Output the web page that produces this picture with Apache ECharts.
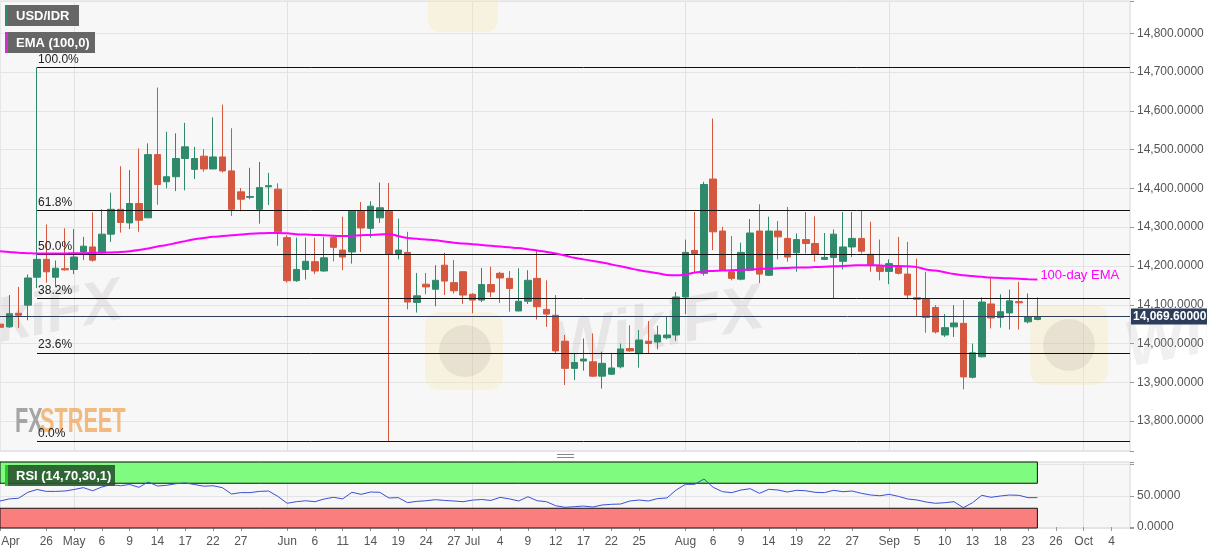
<!DOCTYPE html>
<html><head><meta charset="utf-8">
<script src="https://cdn.jsdelivr.net/npm/echarts/dist/echarts.min.js"></script>
<style>html,body{margin:0;padding:0;background:#fff;}#c{width:1207px;height:555px;}</style>
</head><body><div id="c"></div>
<script>
// trading days shown on the category axis (2019), in order
const tradingDays = [
  ['04', [19,22,23,24,25,26,29,30]],
  ['05', [1,2,3,6,7,8,9,10,13,14,15,16,17,20,21,22,23,24,27,28,29,30,31]],
  ['06', [3,4,5,6,7,10,11,12,13,14,17,18,19,20,21,24,25,26,27,28]],
  ['07', [1,2,3,4,5,8,9,10,11,12,15,16,17,18,19,22,23,24,25,26,29,30,31]],
  ['08', [1,2,5,6,7,8,9,12,13,14,15,16,19,20,21,22,23,26,27,28,29,30]],
  ['09', [2,3,4,5,6,9,10,11,12,13,16,17,18,19,20,23,24,25,26,27,30]],
  ['10', [1,2,3,4,7,8]]
];
const categories = [];
tradingDays.forEach(([m, days]) => days.forEach(d => categories.push('2019-' + m + '-' + String(d).padStart(2,'0'))));

// OHLC per candle (Apr 19 .. Sep 24)
const openP  = [14050,14043,14078,14099,14171,14217,14171,14193,14191,14236,14249,14236,14282,14346,14311,14361,14324,14487,14417,14430,14477,14449,14483,14450,14481,14445,14391,14377,14346,14404,14398,14273,14162,14191,14211,14187,14273,14241,14236,14341,14297,14324,14341,14232,14235,14106,14153,14140,14202,14157,14185,14127,14112,14152,14181,14168,14084,14109,14168,14088,14073,14006,13936,13955,13953,13916,13921,13940,13987,13974,14006,14004,14015,14022,14120,14240,14181,14424,14290,14185,14166,14189,14290,14176,14290,14271,14234,14268,14258,14217,14222,14212,14249,14271,14230,14199,14186,14199,14179,14118,14114,14093,14022,14043,14052,13913,13966,14102,14067,14079,14108,14056,14062];
const closeP = [14042,14077,14073,14169,14217,14185,14194,14190,14223,14251,14215,14282,14346,14312,14361,14318,14487,14410,14430,14477,14507,14477,14450,14481,14445,14346,14372,14379,14402,14407,14288,14162,14191,14212,14187,14221,14248,14223,14341,14298,14354,14350,14230,14241,14107,14123,14146,14163,14161,14136,14125,14112,14152,14133,14169,14142,14109,14163,14095,14076,13981,13936,13951,13960,13916,13949,13937,13986,13981,14009,14000,14022,14022,14120,14235,14232,14410,14288,14189,14168,14235,14285,14179,14290,14275,14223,14268,14258,14230,14222,14282,14249,14271,14238,14202,14186,14206,14181,14125,14114,14067,14030,14041,14053,13914,13976,14107,14066,14082,14110,14105,14069,14069.6];
const lowP   = [14036,14040,14040,14060,14143,14157,14146,14188,14179,14215,14211,14228,14262,14286,14295,14288,14324,14358,14400,14393,14395,14424,14443,14450,14441,14329,14341,14372,14309,14357,14252,14157,14159,14165,14179,14185,14212,14189,14206,14236,14273,14311,13747,14217,14088,14080,14127,14096,14125,14129,14102,14078,14107,14120,14105,14082,14083,14102,14062,14043,13974,13893,13906,13930,13914,13884,13919,13936,13979,13938,13974,13985,14011,14007,14076,14181,14175,14241,14187,14163,14163,14187,14156,14174,14217,14211,14185,14232,14211,14215,14116,14191,14223,14232,14185,14163,14153,14178,14114,14069,14028,14026,14017,14017,13882,13910,13964,14039,14041,14036,14036,14052,14060];
const highP  = [14068,14125,14146,14178,14712,14307,14214,14297,14295,14275,14338,14346,14389,14457,14447,14503,14516,14660,14546,14542,14569,14507,14501,14583,14616,14555,14401,14453,14468,14440,14413,14279,14273,14273,14273,14275,14279,14327,14343,14365,14367,14415,14414,14322,14288,14182,14182,14202,14234,14215,14187,14130,14195,14198,14185,14187,14194,14189,14239,14163,14125,14022,13974,14013,14026,13979,13976,14000,14047,14035,14058,14046,14069,14133,14268,14339,14417,14580,14301,14277,14260,14321,14359,14327,14316,14352,14284,14339,14328,14285,14294,14339,14339,14344,14314,14268,14217,14275,14262,14219,14185,14099,14076,14099,14112,14000,14119,14170,14127,14139,14159,14129,14119];

// EMA(100)
const ema100 = [14238,14236,14234,14233,14232,14232,14232,14232,14233,14233,14234,14234,14235,14236,14238,14241,14245,14250,14254,14259,14264,14269,14272,14275,14277,14279,14281,14283,14284,14285,14285,14284,14282,14281,14280,14279,14278,14277,14278,14279,14280,14281,14282,14277,14272,14270,14268,14266,14263,14260,14258,14256,14254,14252,14250,14248,14246,14243,14240,14236,14232,14227,14221,14217,14213,14209,14204,14199,14194,14189,14185,14181,14177,14176,14178,14183,14186,14187,14188,14189,14190,14191,14192,14193,14194,14195,14196,14196,14197,14198,14199,14200,14201,14202,14202,14201,14200,14200,14199,14197,14191,14188,14184,14179,14176,14174,14172,14170,14169,14168,14167,14166,14165];

// RSI(14)
const rsi14 = [41.6,45,46,55.5,60,57,57,57.6,60,63,58,64,68,66,68,63.5,72,65.6,66.7,69.3,70.4,68,65.3,66,63,52.8,55,55,57,57.6,49,38,40.5,42,40.5,44.8,47.5,45,55.5,52.3,56,55.5,46.4,47,39,41,42,43.7,42.5,41.6,40.5,43,44,42.5,47.5,45,41.6,48.5,42,40.5,34,31.5,32.5,33.5,32,35.2,36.3,36.8,41.6,43.2,41.6,45.5,46.4,59.2,68.3,68.3,76.8,63.5,56.5,55,59.2,61.3,53.9,60.3,59.2,56,58.7,58,55.5,55,58.7,56.5,57.6,53.9,51.2,50,52.3,49,44.8,43.2,40,37.9,38.9,40.5,30.9,38.9,50.7,47.5,49.6,51.2,50.7,47,47];

// x-axis tick labels
const tickDates  = ['2019-04-19','2019-04-26','2019-05-01','2019-05-06','2019-05-09','2019-05-14','2019-05-17','2019-05-22','2019-05-27','2019-06-03','2019-06-06','2019-06-11','2019-06-14','2019-06-19','2019-06-24','2019-06-27','2019-07-01','2019-07-04','2019-07-09','2019-07-12','2019-07-17','2019-07-22','2019-07-25','2019-08-01','2019-08-06','2019-08-09','2019-08-14','2019-08-19','2019-08-22','2019-08-27','2019-09-02','2019-09-05','2019-09-10','2019-09-13','2019-09-18','2019-09-23','2019-09-26','2019-10-01','2019-10-04'];
const tickLabels = ['Apr','26','May','6','9','14','17','22','27','Jun','6','11','14','19','24','27','Jul','4','9','12','17','22','25','Aug','6','9','14','19','22','27','Sep','5','10','13','18','23','26','Oct','4'];
const monthStarts = ['2019-05-01','2019-06-03','2019-07-01','2019-08-01','2019-09-02','2019-10-01'];

// Fibonacci retracement
const fibHigh = 14712, fibLow = 13748;
const fibLabels = ['100.0%','61.8%','50.0%','38.2%','23.6%','0.0%'];
const fibRatios = [1, 0.618, 0.5, 0.382, 0.236, 0];
const fibStartIndex = 4;
const lastPrice = 14069.6;
const lastPriceLabel = '14,069.60000';
const rsiUpper = 70, rsiLower = 30;

const labelByIdx = {};
tickDates.forEach((d,i)=>{ labelByIdx[categories.indexOf(d)] = tickLabels[i]; });
const monthIdx = new Set(monthStarts.map(d=>categories.indexOf(d)));
const candleData = openP.map((o,i)=>[o, closeP[i], lowP[i], highP[i]]);
const lastIdx = openP.length - 1;

const fmtPrice = v => (v % 100 === 0) ? v.toLocaleString('en-US',{minimumFractionDigits:4,maximumFractionDigits:4}) : '';

const fibLines = fibRatios.map((r,i)=>{
  const p = fibLow + r*(fibHigh-fibLow);
  return [{coord:[fibStartIndex, p], label:{formatter: fibLabels[i]}}, {coord:[categories.length-1, p]}];
});

const chart = echarts.init(document.getElementById('c'), null, {renderer:'canvas'});
const font = 'Arial, "Liberation Sans", sans-serif';
chart.setOption({
  animation:false,
  backgroundColor:'#ffffff',
  textStyle:{fontFamily:font},
  grid:[
    {left:0, right:77, top:1, height:450, show:true, backgroundColor:'#f7f7f7', borderColor:'#d6d6de', borderWidth:1, outerBoundsMode:'none', containLabel:false},
    {left:0, right:77, top:462, height:66, show:true, backgroundColor:'#f7f7f7', borderColor:'#d6d6de', borderWidth:1, outerBoundsMode:'none', containLabel:false}
  ],
  xAxis:[
    {type:'category', gridIndex:0, data:categories, boundaryGap:false,
     axisLine:{show:false}, axisTick:{show:false}, axisLabel:{show:false},
     splitLine:{show:true, interval:(i)=>monthIdx.has(i), lineStyle:{color:'#e2e2e2'}}},
    {type:'category', gridIndex:1, data:categories, boundaryGap:false,
     axisLine:{show:false},
     axisTick:{show:true, interval:(i)=>(i in labelByIdx), length:4, lineStyle:{color:'#999'}},
     splitLine:{show:true, interval:(i)=>monthIdx.has(i), lineStyle:{color:'#e2e2e2'}},
     axisLabel:{show:true, interval:(i)=>(i in labelByIdx), color:'#555', fontSize:12, margin:8, fontFamily:font,
       formatter:(v, i)=> i===0 ? '{l|'+labelByIdx[0]+'}' : (labelByIdx[i]||''),
       rich:{l:{padding:[0,0,0,21], color:'#555', fontSize:12, fontFamily:font}}}}
  ],
  yAxis:[
    {type:'value', gridIndex:0, position:'right', min:13723, max:14883, minInterval:100, maxInterval:100, scale:true,
     axisLine:{show:false}, axisTick:{show:true, length:4, lineStyle:{color:'#999'}},
     axisLabel:{color:'#555', fontSize:12, margin:7, formatter:fmtPrice, fontFamily:font},
     splitLine:{show:true, lineStyle:{color:'#e4e4e4'}}},
    {type:'value', gridIndex:1, position:'right', min:-1.6, max:104, minInterval:50, maxInterval:50,
     axisLine:{show:false}, axisTick:{show:true, length:4, lineStyle:{color:'#999'}},
     axisLabel:{color:'#555', fontSize:12, margin:7, fontFamily:font, formatter:v=>(v===0||v===50)?v.toFixed(4):''},
     splitLine:{show:true, lineStyle:{color:'#e4e4e4'}}}
  ],
  series:[
    {type:'candlestick', name:'USD/IDR', xAxisIndex:0, yAxisIndex:0, data:candleData, barWidth:7, clip:true,
     itemStyle:{color:'#2f8a6c', color0:'#d4573f', borderColor:'#2f8a6c', borderColor0:'#d4573f', borderWidth:1},
     markLine:{silent:true, symbol:['none','none'], animation:false,
       data:[...fibLines.map(l=>[
         Object.assign({}, l[0], {lineStyle:{color:'#111', width:1, type:'solid'}, label:Object.assign({show:true, position:'insideStartTop', color:'#222', fontSize:12, distance:[1,2], fontFamily:font}, l[0].label)}),
         l[1]]),
         {yAxis:lastPrice, lineStyle:{color:'#2c3d5b', width:1, type:'solid'},
          label:{show:true, position:'end', formatter:lastPriceLabel, color:'#fff', fontWeight:'bold', fontSize:12, fontFamily:font,
                 backgroundColor:'#2c3d5b', padding:[2,2,2,2], distance:1}}]
     }},
    {type:'line', name:'EMA', xAxisIndex:0, yAxisIndex:0, data:ema100, showSymbol:false, smooth:true, z:5,
     lineStyle:{color:'#ff00ff', width:2}, itemStyle:{color:'#ff00ff'},
     endLabel:{show:true, formatter:'100-day EMA', color:'#ff00ff', fontSize:13, distance:3, offset:[0,-4], fontFamily:font}},
    {type:'line', name:'RSI', xAxisIndex:1, yAxisIndex:1, data:rsi14, showSymbol:false, z:5,
     lineStyle:{color:'#3a4fd6', width:1}, itemStyle:{color:'#3a4fd6'},
     markArea:{silent:true, data:[
       [{xAxis:categories[0], yAxis:rsiUpper, itemStyle:{color:'#7ffb7f', borderColor:'#111', borderWidth:1}}, {xAxis:categories[lastIdx], yAxis:104}],
       [{xAxis:categories[0], yAxis:-1.6, itemStyle:{color:'#fb7e7e', borderColor:'#111', borderWidth:1}}, {xAxis:categories[lastIdx], yAxis:rsiLower}]
     ]}}
  ],
  graphic:[
    // watermarks
    {type:'text', x:548, y:318, rotation:0.19, z:1, style:{text:'WikiFX', font:'bold italic 64px '+font, fill:'rgba(170,160,160,0.2)'}},
    {type:'text', x:-80, y:310, rotation:0.19, z:1, style:{text:'WikiFX', font:'bold italic 60px '+font, fill:'rgba(170,160,160,0.2)'}},
    {type:'text', x:1120, y:318, rotation:0.19, z:1, style:{text:'WikiFX', font:'bold italic 64px '+font, fill:'rgba(170,160,160,0.16)'}},
    {type:'rect', x:425, y:312, z:1, shape:{width:78, height:78, r:14}, style:{fill:'rgba(250,232,170,0.30)'}},
    {type:'circle', z:1, shape:{cx:465, cy:351, r:26}, style:{fill:'rgba(140,130,130,0.14)'}},
    {type:'rect', x:1030, y:305, z:1, shape:{width:78, height:80, r:14}, style:{fill:'rgba(250,232,170,0.30)'}},
    {type:'circle', z:1, shape:{cx:1069, cy:345, r:26}, style:{fill:'rgba(140,130,130,0.14)'}},
    {type:'rect', x:428, y:-20, z:1, shape:{width:70, height:52, r:12}, style:{fill:'rgba(250,232,170,0.30)'}},
    {type:'text', x:15, y:405, scaleX:0.62, z:2, style:{text:'FX', font:'bold 35px "Liberation Sans Narrow", '+font, fill:'rgba(150,150,150,0.85)'}},
    {type:'text', x:40, y:405, scaleX:0.62, z:2, style:{text:'STREET', font:'bold 35px "Liberation Sans Narrow", '+font, fill:'rgba(240,170,95,0.8)'}},
    // panel drag handle
    {type:'rect', x:557, y:454, z:10, shape:{width:17, height:1}, style:{fill:'#888'}},
    {type:'rect', x:557, y:457, z:10, shape:{width:17, height:1}, style:{fill:'#888'}},
    // legend boxes
    {type:'rect', x:5, y:5, z:100, shape:{width:74, height:21}, style:{fill:'#666'}},
    {type:'rect', x:5, y:5, z:101, shape:{width:3, height:21}, style:{fill:'#2f8a6c'}},
    {type:'text', x:16, y:16, z:102, style:{text:'USD/IDR', font:'bold 13px '+font, fill:'#fff', verticalAlign:'middle', textVerticalAlign:'middle'}},
    {type:'rect', x:5, y:32, z:100, shape:{width:90, height:21}, style:{fill:'#666'}},
    {type:'rect', x:5, y:32, z:101, shape:{width:3, height:21}, style:{fill:'#cc33cc'}},
    {type:'text', x:16, y:43, z:102, style:{text:'EMA (100,0)', font:'bold 13px '+font, fill:'#fff', verticalAlign:'middle', textVerticalAlign:'middle'}},
    {type:'rect', x:6, y:465, z:100, shape:{width:109, height:21}, style:{fill:'rgba(40,85,45,0.9)'}},
    {type:'rect', x:5, y:465, z:101, shape:{width:3, height:21}, style:{fill:'#22cc22'}},
    {type:'text', x:16, y:476, z:102, style:{text:'RSI (14,70,30,1)', font:'bold 13px '+font, fill:'#fff', verticalAlign:'middle', textVerticalAlign:'middle'}}
  ]
});
</script></body></html>
